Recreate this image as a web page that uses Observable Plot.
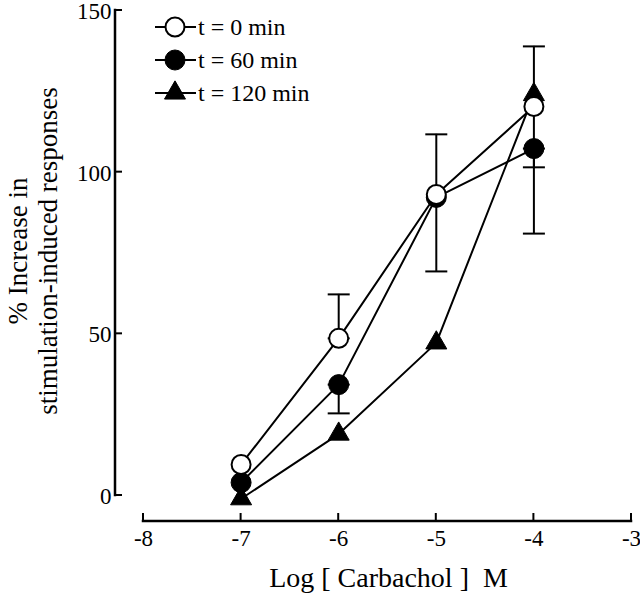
<!DOCTYPE html>
<html><head><meta charset="utf-8">
<script src="https://cdn.jsdelivr.net/npm/d3@7"></script>
<script src="https://cdn.jsdelivr.net/npm/@observablehq/plot@0.6"></script>
<style>
body{margin:0;background:#fff;}
#wrap{position:relative;width:640px;height:593px;font-family:'Liberation Serif','Times New Roman',serif;}
#wrap svg text{font-family:'Liberation Serif','Times New Roman',serif;}
#legend{position:absolute;left:0;top:0;pointer-events:none;}
</style></head><body><div id="wrap"></div>
<script>
// ---- data ----
const logConc = [-7, -6, -5, -4];
const t0 = [9.6, 48.6, 93.1, 120.3];
const t60 = [4.0, 34.3, 92.2, 107.3];
const t120 = [-1.0, 19.0, 47.2, 124.0];
const seriesNames = ["t = 0 min", "t = 60 min", "t = 120 min"];
const errX = [-6, -6, -5, -4, -4];
const errLo = [48.6, 25.4, 69.3, 101.5, 81.0];
const errHi = [62.2, 34.3, 111.7, 138.9, 107.3];
const xTicks = [-8, -7, -6, -5, -4, -3];
const yTicks = [0, 50, 100, 150];
const xTitle = "Log [ Carbachol ] \u00a0M";
const yTitle = "% Increase in\nstimulation-induced responses";

// ---- tables ----
const FONT = "'Liberation Serif', 'Times New Roman', serif";
const seriesVals = [t0, t60, t120];
const rows = [];
seriesNames.forEach((s, si) => logConc.forEach((x, i) => rows.push({series: s, si, x, y: seriesVals[si][i]})));
const errs = errX.map((x, i) => ({x, lo: errLo[i], hi: errHi[i]}));

const capSym = {draw(ctx, size) { const r = Math.sqrt(size / Math.PI); ctx.moveTo(-r, 0); ctx.lineTo(r, 0); }};

function axesMark(index, scales, values, dims) {
  const g = d3.create("svg:g").attr("stroke", "black").attr("fill", "none").attr("stroke-linecap", "square");
  const x0 = dims.marginLeft;
  const yb = dims.height - dims.marginBottom;
  g.append("line").attr("x1", x0).attr("x2", x0).attr("y1", scales.y(yTicks[0])).attr("y2", scales.y(yTicks[yTicks.length - 1])).attr("stroke-width", 2.5);
  for (const t of yTicks) g.append("line").attr("x1", x0).attr("x2", x0 + 6).attr("y1", scales.y(t)).attr("y2", scales.y(t)).attr("stroke-width", 2);
  g.append("line").attr("x1", scales.x(xTicks[0])).attr("x2", scales.x(xTicks[xTicks.length - 1])).attr("y1", yb).attr("y2", yb).attr("stroke-width", 2.5);
  for (const t of xTicks) g.append("line").attr("x1", scales.x(t)).attr("x2", scales.x(t)).attr("y1", yb).attr("y2", yb - 7).attr("stroke-width", 2);
  return g.node();
}

const chart = Plot.plot({
  width: 640, height: 593,
  marginLeft: 115, marginRight: 9, marginTop: 10, marginBottom: 72,
  style: {fontFamily: FONT, fontSize: "23px", color: "black", background: "white", overflow: "visible"},
  x: {domain: [xTicks[0], xTicks[xTicks.length - 1]], insetLeft: 28},
  y: {domain: [yTicks[0], yTicks[yTicks.length - 1]], insetBottom: 26},
  marks: [
    Plot.axisX({ticks: xTicks, tickSize: 0, tickPadding: 8, tickFormat: d => String(d), label: null, fontSize: 23, fontFamily: FONT}),
    Plot.axisY({ticks: yTicks, tickSize: 0, tickPadding: 4, tickFormat: d => String(d), label: null, fontSize: 23, fontFamily: FONT, dy: 1}),
    axesMark,
    Plot.ruleX(errs, {x: "x", y1: "lo", y2: "hi", stroke: "black", strokeWidth: 2}),
    Plot.dot(errs, {x: "x", y: "lo", symbol: capSym, r: 11, stroke: "black", strokeWidth: 2, fill: "none"}),
    Plot.dot(errs, {x: "x", y: "hi", symbol: capSym, r: 11, stroke: "black", strokeWidth: 2, fill: "none"}),
    Plot.line(rows, {x: "x", y: "y", z: "series", stroke: "black", strokeWidth: 2}),
    Plot.dot(rows.filter(d => d.si === 2), {x: "x", y: "y", symbol: "triangle", r: 7.8, fill: "black", stroke: "black", strokeWidth: 1}),
    Plot.dot(rows.filter(d => d.si === 1), {x: "x", y: "y", r: 10, fill: "black", stroke: "black", strokeWidth: 1}),
    Plot.dot(rows.filter(d => d.si === 0), {x: "x", y: "y", r: 9.5, fill: "white", stroke: "black", strokeWidth: 2}),
    Plot.text([xTitle], {frameAnchor: "bottom", textAnchor: "middle", lineAnchor: "middle", dx: 15, dy: 57, fontSize: 28, fontFamily: FONT, fill: "black"}),
    Plot.text([yTitle], {frameAnchor: "left", textAnchor: "middle", lineAnchor: "middle", rotate: -90, dx: -83, dy: -15, fontSize: 27, fontFamily: FONT, lineHeight: 1.1, fill: "black"})
  ]
});
const wrap = document.getElementById("wrap");
wrap.appendChild(chart);

// ---- legend overlay ----
const leg = d3.select(wrap).append("svg").attr("id", "legend").attr("width", 640).attr("height", 593);
const legY = [27, 60, 93];
const symbols = [d3.symbolCircle, d3.symbolCircle, d3.symbolTriangle];
const symSize = [Math.PI * 9.5 * 9.5, Math.PI * 10 * 10, Math.PI * 7.8 * 7.8];
seriesNames.forEach((s, i) => {
  const g = leg.append("g").attr("transform", `translate(0,${legY[i]})`);
  g.append("line").attr("x1", 155).attr("x2", 196).attr("stroke", "black").attr("stroke-width", 2);
  g.append("path").attr("transform", "translate(175,0)").attr("d", d3.symbol(symbols[i], symSize[i])())
    .attr("fill", i === 0 ? "white" : "black").attr("stroke", "black").attr("stroke-width", i === 0 ? 2 : 1);
  g.append("text").attr("x", 198).attr("y", 8).style("font-size", "24px").style("font-family", FONT).text(s);
});
</script></body></html>
